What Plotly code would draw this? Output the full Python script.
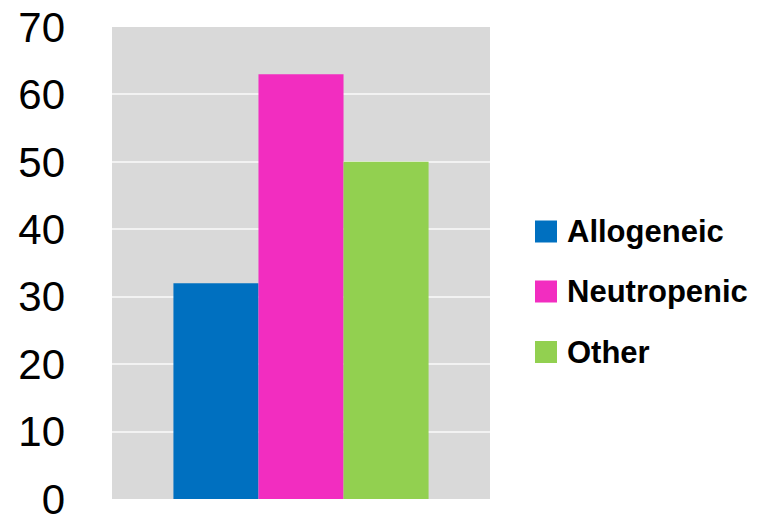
import plotly.graph_objects as go

series = ["Allogeneic", "Neutropenic", "Other"]
values = [32, 63, 50]
colors = ["#0070c0", "#f22dc0", "#92d050"]
yticks = [0, 10, 20, 30, 40, 50, 60, 70]

W, H = 779, 515
ML, MR, MT, MB = 112, 289, 27, 16

def px_x(px):
    return (px - ML) / (W - ML - MR)

def px_y(py):
    return (H - MB - py) / (H - MT - MB)

fig = go.Figure()
for name, v, c in zip(series, values, colors):
    fig.add_trace(go.Bar(x=[""], y=[v], name=name, marker=dict(color=c, line=dict(width=0)),
                         showlegend=False))

# legend drawn as squares + labels
leg_y = [231.5, 291.5, 352]
for name, c, ly in zip(series, colors, leg_y):
    fig.add_shape(type="rect", xref="paper", yref="paper",
                  x0=px_x(535), x1=px_x(557), y0=px_y(ly + 11), y1=px_y(ly - 11),
                  fillcolor=c, line=dict(width=0))
    fig.add_annotation(text=f"<b>{name}</b>", xref="paper", yref="paper",
                       x=px_x(565), y=px_y(ly), xanchor="left", yanchor="middle",
                       showarrow=False, font=dict(family="Liberation Sans", size=31, color="#000000"))

fig.update_layout(
    width=W, height=H,
    margin=dict(l=ML, r=MR, t=MT, b=MB, autoexpand=False),
    paper_bgcolor="#ffffff",
    plot_bgcolor="#d9d9d9",
    barmode="group",
    bargap=0.325,
    bargroupgap=0,
    showlegend=False,
    font=dict(family="Liberation Sans", color="#000000"),
)
fig.update_xaxes(showticklabels=False, showgrid=False, zeroline=False, range=[-0.5, 0.5],
                 automargin=False)
fig.update_yaxes(range=[0, 70], tickvals=yticks, ticktext=[str(t) for t in yticks],
                 showgrid=True, gridcolor="#f2f2f2", gridwidth=2, zeroline=False,
                 tickfont=dict(family="Liberation Sans", size=42, color="#000000"),
                 ticklabelstandoff=46, automargin=False, ticklabeloverflow="allow")

fig.write_html("out.html")
